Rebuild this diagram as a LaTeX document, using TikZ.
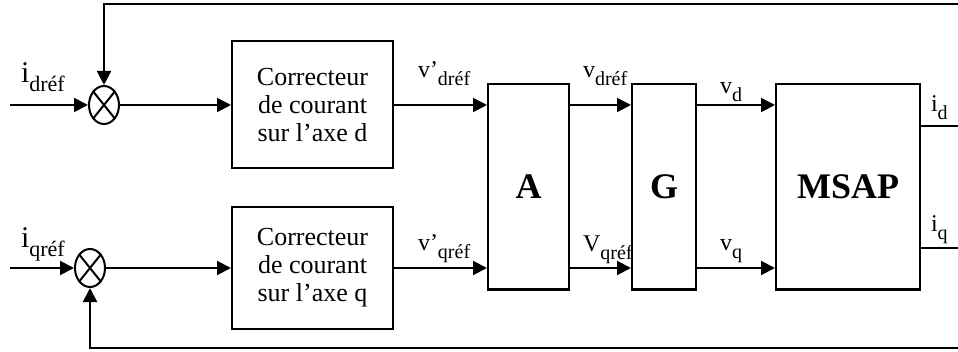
\documentclass[tikz,border=0pt]{standalone}
\usepackage{fontspec}
\setmainfont{Liberation Serif}
\usetikzlibrary{arrows.meta,shapes.geometric}

\newcommand{\sig}[3][10]{#2\raisebox{-0.3em}{\fontsize{#1}{#1}\selectfont #3}}

\tikzset{
  bloc/.style={draw, line width=1pt, minimum width=80.5pt, inner sep=0pt,
    align=center, font=\fontsize{13}{14}\selectfont},
  sumnode/.style={draw, ellipse, line width=1pt, minimum width=15pt,
    minimum height=19pt, inner sep=0pt},
  lbl/.style={anchor=base west, inner sep=0pt, font=\fontsize{12}{13}\selectfont},
  biglbl/.style={lbl, font=\fontsize{15}{16}\selectfont},
}

\begin{document}
\begin{tikzpicture}[x=0.5pt, y=-0.5pt, line width=1pt, >={Triangle[length=7pt,width=7pt]}]
    \useasboundingbox (0,0) rectangle (958,352);
    % comparateurs
    \node[sumnode] (sumd) at (104,105) {};
    \node[sumnode] (sumq) at (90,268) {};
    \draw (sumd.north west) -- (sumd.south east) (sumd.north east) -- (sumd.south west);
    \draw (sumq.north west) -- (sumq.south east) (sumq.north east) -- (sumq.south west);

    \node[bloc, minimum height=63.5pt] (corrd) at (312.5,105) {Correcteur\\de courant\\sur l’axe d};
    \node[bloc, minimum height=61pt] (corrq) at (312.5,268) {Correcteur\\de courant\\sur l’axe q};
    \node[bloc, minimum width=40.5pt, minimum height=102.5pt, font=\bfseries\fontsize{18}{20}\selectfont] (A) at (528.5,187) {A};
    \node[bloc, minimum width=32pt, minimum height=102.5pt, font=\bfseries\fontsize{18}{20}\selectfont] (G) at (664,187) {G};
    \node[bloc, minimum width=72pt, minimum height=102.5pt, font=\bfseries\fontsize{18}{20}\selectfont] (msap) at (848,187) {MSAP};

    \coordinate (ind) at (10,105);
    \coordinate (inq) at (10,268);
    \coordinate (fbd) at (958,4);
    \coordinate (fbq) at (958,348);
    \coordinate (outd) at (958,126);
    \coordinate (outq) at (958,248);

    \draw[->] (ind) -- (sumd);
    \draw[->] (inq) -- (sumq);
    \draw[->] (sumd) -- (corrd);
    \draw[->] (sumq) -- (corrq);
    \draw[->] (corrd) -- (corrd -| A.west);
    \draw[->] (corrq) -- (corrq -| A.west);
    \draw[->] (A.east |- corrd) -- (G.west |- corrd);
    \draw[->] (A.east |- corrq) -- (G.west |- corrq);
    \draw[->] (G.east |- corrd) -- (msap.west |- corrd);
    \draw[->] (G.east |- corrq) -- (msap.west |- corrq);
    \draw (msap.east |- outd) -- (outd);
    \draw (msap.east |- outq) -- (outq);
    \draw[->] (fbd) -- (fbd -| sumd) -- (sumd);
    \draw[->] (fbq) -- (fbq -| sumq) -- (sumq);

    \node[biglbl] (lidref) at (20,83) {\sig[11]{i}{dréf}};
    \node[biglbl] (liqref) at (20,248) {\sig[11]{i}{qréf}};
    \node[lbl] (lvpd) at (417,78) {\sig{v’}{dréf}};
    \node[lbl] (lvpq) at (417,251) {\sig{v’}{qréf}};
    \node[lbl] (lvdref) at (582,78) {\sig{v}{dréf}};
    \node[lbl] (lvqref) at (582,252) {\sig{V}{qréf}};
    \node[lbl] (lvd) at (719,94) {\sig{v}{d}};
    \node[lbl] (lvq) at (719,251) {\sig{v}{q}};
    \node[lbl] (lid) at (930,112) {\sig{i}{d}};
    \node[lbl] (liq) at (930,232) {\sig{i}{q}};
\end{tikzpicture}
\end{document}
